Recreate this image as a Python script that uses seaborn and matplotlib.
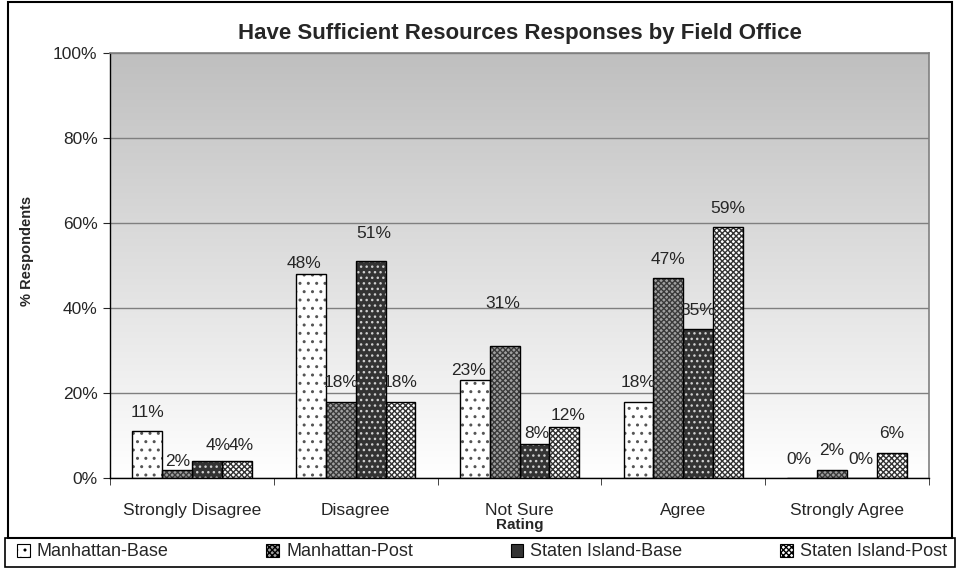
"""
Have Sufficient Resources - responses by field office (grouped bar chart)
"""

import numpy as np
import pandas as pd
import matplotlib
matplotlib.use("Agg")
import matplotlib.pyplot as plt
import seaborn as sns
from matplotlib.patches import Patch, Rectangle
from matplotlib.colors import LinearSegmentedColormap
from matplotlib.ticker import FuncFormatter

# Data
ratings = ["Strongly Disagree", "Disagree", "Not Sure", "Agree", "Strongly Agree"]
series = ["Manhattan-Base", "Manhattan-Post", "Staten Island-Base", "Staten Island-Post"]
manhattan_base = [11, 48, 23, 18, 0]
manhattan_post = [2, 18, 31, 47, 2]
staten_base = [4, 51, 8, 35, 0]
staten_post = [4, 18, 12, 59, 6]

# Styles: (face, hatch, hatch colour)
styles = {
    "Manhattan-Base": ("#ffffff", "..", "#555555"),
    "Manhattan-Post": ("#a0a0a0", "xxxxxx", "#3a3a3a"),
    "Staten Island-Base": ("#333333", "...", "#cfcfcf"),
    "Staten Island-Post": ("#ffffff", "xxxxxx", "#333333"),
}

# Hand-placed label nudges in pixels (dx, height above bar top), like the original
label_nudge = {
    ("Strongly Disagree", "Manhattan-Post"): (1, 8),
    ("Strongly Disagree", "Staten Island-Base"): (11, 16),
    ("Strongly Disagree", "Staten Island-Post"): (4, 16),
    ("Disagree", "Manhattan-Base"): (-7, 11),
    ("Disagree", "Staten Island-Base"): (3, 28),
    ("Not Sure", "Manhattan-Base"): (-6, 10),
    ("Not Sure", "Manhattan-Post"): (-2, 43),
    ("Not Sure", "Staten Island-Base"): (2, 11),
    ("Not Sure", "Staten Island-Post"): (4, 12),
    ("Strongly Agree", "Manhattan-Base"): (-3, 18),
    ("Strongly Agree", "Staten Island-Base"): (-1, 18),
}

df = pd.DataFrame({
    "Rating": ratings * 4,
    "Series": np.repeat(series, len(ratings)),
    "Value": manhattan_base + manhattan_post + staten_base + staten_post,
})

sns.set_style("white")
plt.rcParams["font.family"] = ["Liberation Sans", "DejaVu Sans"]
plt.rcParams["hatch.linewidth"] = 1.0

fig = plt.figure(figsize=(9.6, 5.73), dpi=100)
ax = fig.add_axes([110 / 960, 1 - 478 / 573, 819 / 960, 425 / 573])

sns.barplot(data=df, x="Rating", y="Value", hue="Series", order=ratings,
            hue_order=series, palette=[styles[s][0] for s in series],
            width=0.73, gap=0, saturation=1, legend=False, ax=ax)

ax.set_xlim(-0.5, len(ratings) - 0.5)
ax.set_ylim(0, 100)

# gradient plot area
cmap = LinearSegmentedColormap.from_list("bg", ["#ffffff", "#bfbfbf"])
ax.imshow(np.linspace(0, 1, 256).reshape(-1, 1), cmap=cmap, origin="lower",
          extent=[-0.5, len(ratings) - 0.5, 0, 100], aspect="auto", zorder=0)

# bar hatches, outlines and value labels
bars = [p for p in ax.patches if isinstance(p, Rectangle)]
for i, s in enumerate(series):
    face, hatch, hcol = styles[s]
    for j, r in enumerate(ratings):
        p = bars[i * len(ratings) + j]
        p.set_hatch(hatch)
        p.set_edgecolor(hcol)
        p.set_linewidth(0)
        p.set_zorder(2)
        ax.add_patch(Rectangle(p.get_xy(), p.get_width(), p.get_height(),
                               fill=False, edgecolor="black", lw=1, zorder=3))
        dx, dy = label_nudge.get((r, s), (0, 19))
        ax.annotate(f"{p.get_height():.0f}%",
                    (p.get_x() + p.get_width() / 2, p.get_height()),
                    xytext=(dx, dy), textcoords="offset pixels",
                    ha="center", va="center", fontsize=12.5, zorder=4)

# grid and axes
ax.set_axisbelow(True)
ax.yaxis.grid(True, color="#7f7f7f", lw=1)
ax.set_yticks(range(0, 101, 20))
ax.yaxis.set_major_formatter(FuncFormatter(lambda v, _: f"{v:.0f}%"))
ax.tick_params(axis="y", labelsize=12.5, length=5, direction="out", left=True, pad=4)
ax.set_xticks(range(len(ratings)))
ax.set_xticklabels(ratings)
ax.set_xticks(np.arange(-0.5, len(ratings)), minor=True)
ax.tick_params(axis="x", which="major", length=0, labelsize=12.5, pad=18)
ax.tick_params(axis="x", which="minor", length=5, direction="out", bottom=True)
for side in ["left", "bottom"]:
    ax.spines[side].set_color("black")
    ax.spines[side].set_linewidth(1)
for side in ["top", "right"]:
    ax.spines[side].set_color("#808080")
    ax.spines[side].set_linewidth(1.2)

ax.set_xlabel("Rating", fontsize=11, fontweight="bold", labelpad=0)
ax.set_ylabel("% Respondents", fontsize=10.5, fontweight="bold")
ax.yaxis.set_label_coords(-76 / 819, 0.534)
ax.set_title("Have Sufficient Resources Responses by Field Office",
             fontsize=16, fontweight="bold", pad=10)

# outer chart frame and legend box
fig.patches.append(Rectangle((8 / 960, 1 - 538 / 573), 944 / 960, 536 / 573,
                             transform=fig.transFigure, fill=False,
                             edgecolor="black", lw=1.5))
fig.patches.append(Rectangle((5 / 960, 1 - 567 / 573), 950 / 960, 29 / 573,
                             transform=fig.transFigure, fill=False,
                             edgecolor="black", lw=1.2))

# legend strip
handles = [Patch(facecolor=styles[s][0], hatch=styles[s][1] if i != 2 else "",
                 edgecolor="black", lw=0.8, label=s)
           for i, s in enumerate(series)]
fig.legend(handles=handles, ncol=4, loc="center",
           bbox_to_anchor=(482 / 960, 1 - 552 / 573),
           frameon=False, fontsize=13, columnspacing=5.4,
           handlelength=0.7, handleheight=0.7, handletextpad=0.4,
           borderpad=0, borderaxespad=0)

fig.savefig("out.png", dpi=100)
